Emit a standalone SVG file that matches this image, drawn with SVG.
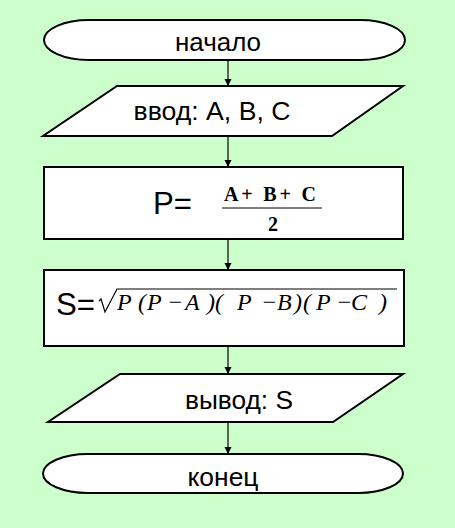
<svg xmlns="http://www.w3.org/2000/svg" width="455" height="528" viewBox="0 0 455 528">
<style>
.shape{fill:#ffffff;stroke:#000000;stroke-width:2}
.lbl{font-family:"Liberation Sans",Arial,sans-serif;font-size:26px;fill:#000000;text-anchor:middle}
.big{font-family:"Liberation Sans",Arial,sans-serif;font-size:31px;fill:#000000}
.mb{font-family:"Liberation Serif","Times New Roman",serif;font-weight:bold;font-size:20px;fill:#000000}
.mi{font-family:"Liberation Serif","Times New Roman",serif;font-style:italic;font-size:24px;fill:#000000}
.conn{stroke:#000000;stroke-width:1.2;fill:none;marker-end:url(#ah)}
</style>
<defs>
<marker id="ah" markerWidth="8" markerHeight="8" refX="7" refY="4" orient="auto" markerUnits="userSpaceOnUse">
<path d="M0,0.5 L7,4 L0,7.5 Z" fill="#000000"/>
</marker>
</defs>
<rect x="0" y="0" width="455" height="528" fill="#ccffcc"/>
<g id="connectors">
<line class="conn" x1="228" y1="60" x2="228" y2="86"/>
<line class="conn" x1="228" y1="136" x2="228" y2="167"/>
<line class="conn" x1="228" y1="239" x2="228" y2="270"/>
<line class="conn" x1="228" y1="346" x2="228" y2="374"/>
<line class="conn" x1="228" y1="422" x2="228" y2="454"/>
</g>
<g id="start">
<path class="shape" d="M89,20 H360 A45,20 0 0 1 360,60 H89 A45,20 0 0 1 89,20 Z"/>
<text class="lbl" x="218" y="51" textLength="86" lengthAdjust="spacingAndGlyphs">начало</text>
</g>
<g id="input">
<polygon class="shape" points="117,86 403,86 332,136 43,136"/>
<text class="lbl" x="212" y="120" textLength="157" lengthAdjust="spacingAndGlyphs">ввод: A, B, C</text>
</g>
<g id="calcP">
<rect class="shape" x="44" y="167" width="359" height="72"/>
<text class="big" x="153" y="214" textLength="39" lengthAdjust="spacingAndGlyphs">P=</text>
<text class="mb" x="224" y="201" textLength="92" lengthAdjust="spacing">A+ B+ C</text>
<line x1="222" y1="208" x2="322" y2="208" stroke="#000000" stroke-width="1"/>
<text class="mb" x="273" y="231" text-anchor="middle" font-size="21">2</text>
</g>
<g id="calcS">
<rect class="shape" x="44" y="270" width="360" height="76"/>
<text class="big" x="56" y="315" textLength="39" lengthAdjust="spacingAndGlyphs">S=</text>
<path d="M99,301 L101,299 L105,312 L117,289 L397,289" fill="none" stroke="#000000" stroke-width="1.2"/>
<text class="mi" x="117 138 147 167 185 207 215 237 261 277 294 303 316 336 351 379" y="310">P(P−A)(P−B)(P−C)</text>
</g>
<g id="output">
<polygon class="shape" points="120,374 403,374 333,422 48,422"/>
<text class="lbl" x="239" y="409" textLength="108" lengthAdjust="spacingAndGlyphs">вывод: S</text>
</g>
<g id="end">
<path class="shape" d="M88,454 H358 A45,19.5 0 0 1 358,493 H88 A45,19.5 0 0 1 88,454 Z"/>
<text class="lbl" x="223" y="486" textLength="71" lengthAdjust="spacingAndGlyphs">конец</text>
</g>
</svg>
